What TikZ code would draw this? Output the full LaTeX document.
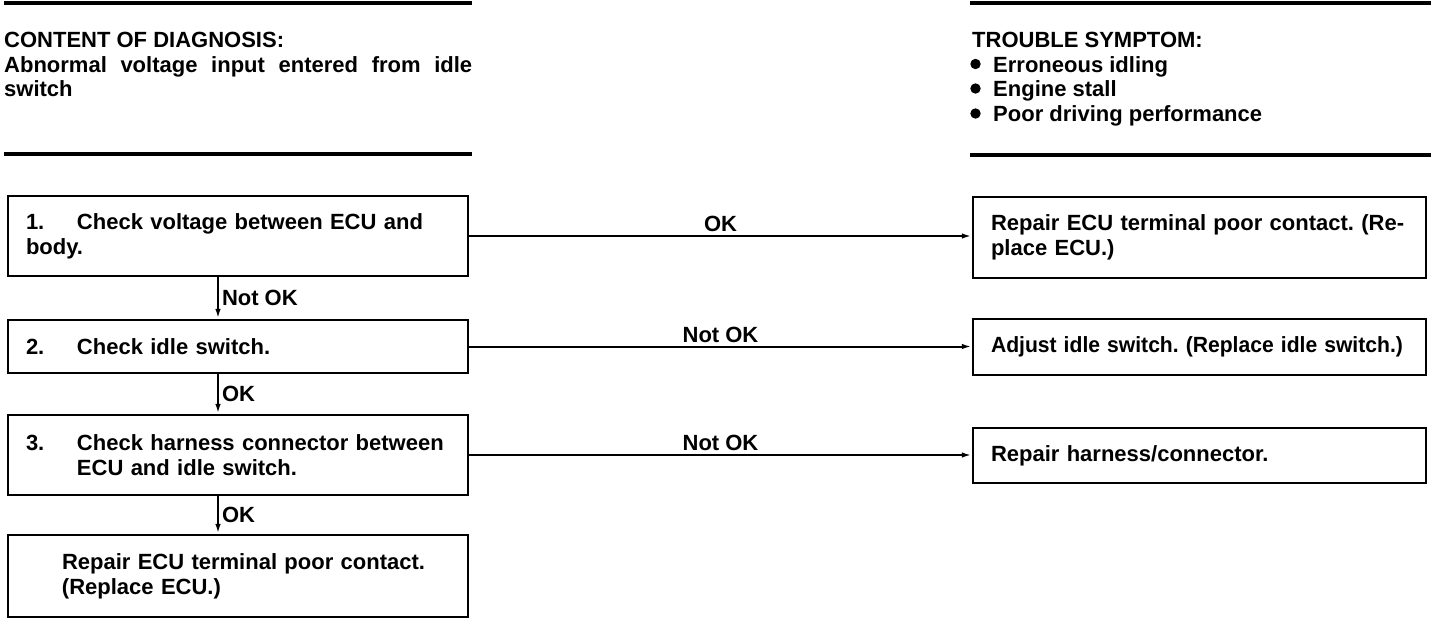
\documentclass[tikz,border=0pt]{standalone}
\usepackage{fontspec}
\setmainfont{Liberation Sans}
\usetikzlibrary{arrows.meta}
\begin{document}
\begin{tikzpicture}[x=1pt,y=-1pt,
  font=\fontsize{22}{25}\selectfont\bfseries\frenchspacing,
  rule/.style={line width=3.5pt},
  box/.style={draw, line width=2.5pt, inner xsep=18pt, inner ysep=0pt, align=left, minimum width=#1, text width=#1-36pt},
  arr/.style={line width=2pt, -{Latex[length=10pt,width=5.5pt]}},
  lbl/.style={inner sep=3pt},
  txt/.style={anchor=base west, inner sep=0pt}]
\useasboundingbox (0,0) rectangle (1456,630);
% header rules
\draw[rule] (4,3) -- (472,3);
\draw[rule] (4,154) -- (472,154);
\draw[rule] (970,3) -- (1431,3);
\draw[rule] (970,155) -- (1431,155);
% header texts
\node[txt] (cd) at (4,47) {CONTENT OF DIAGNOSIS:};
\node[txt] (cd1) at (4,72) {\makebox[468pt][s]{Abnormal voltage input entered from idle}};
\node[txt] (cd2) at (4,96) {switch};
\node[txt] (ts) at (972,47) {TROUBLE SYMPTOM:};
\fill (975.5,64) circle (5.2);
\fill (975.5,88.5) circle (5.2);
\fill (975.5,113.5) circle (5.2);
\node[txt] (ts1) at (993,72) {Erroneous idling};
\node[txt] (ts2) at (993,96.5) {Engine stall};
\node[txt] (ts3) at (993,121) {Poor driving performance};
% left boxes
\node[box=460pt, minimum height=80pt] (b1) at (238,236)
  {\makebox[51pt][l]{1.}Check voltage between ECU and\\body.};
\node[box=460pt, minimum height=53pt] (b2) at (238,346.5)
  {\makebox[51pt][l]{2.}Check idle switch.};
\node[box=460pt, minimum height=80pt] (b3) at (238,455)
  {\makebox[51pt][l]{3.}Check harness connector between\\\hspace*{51pt}ECU and idle switch.};
\node[box=460pt, minimum height=82pt] (b4) at (238,576)
  {\hspace*{36pt}Repair ECU terminal poor contact.\\\hspace*{36pt}(Replace ECU.)};
% right boxes
\node[box=453pt, minimum height=81pt] (r1) at (1199.5,237.5)
  {Repair ECU terminal poor contact. (Re-\\place ECU.)};
\node[box=453pt, minimum height=56pt] (r2) at (1199.5,347)
  {\scalebox{0.96}[1]{Adjust idle switch. (Replace idle switch.)}};
\node[box=453pt, minimum height=55pt] (r3) at (1199.5,455.5)
  {Repair harness/connector.};
% connectors
\coordinate (vx) at (218,0);
\draw[arr] (b1.south -| vx) -- node[lbl, right] {Not OK} (b2.north -| vx);
\draw[arr] (b2.south -| vx) -- node[lbl, right] {OK} (b3.north -| vx);
\draw[arr] (b3.south -| vx) -- node[lbl, right] {OK} (b4.north -| vx);
\draw[arr] (b1.east) -- node[lbl, above] {OK} (r1.west |- b1.east);
\draw[arr] (b2.east) -- node[lbl, above] {Not OK} (r2.west |- b2.east);
\draw[arr] (b3.east) -- node[lbl, above] {Not OK} (r3.west |- b3.east);
\end{tikzpicture}
\end{document}
